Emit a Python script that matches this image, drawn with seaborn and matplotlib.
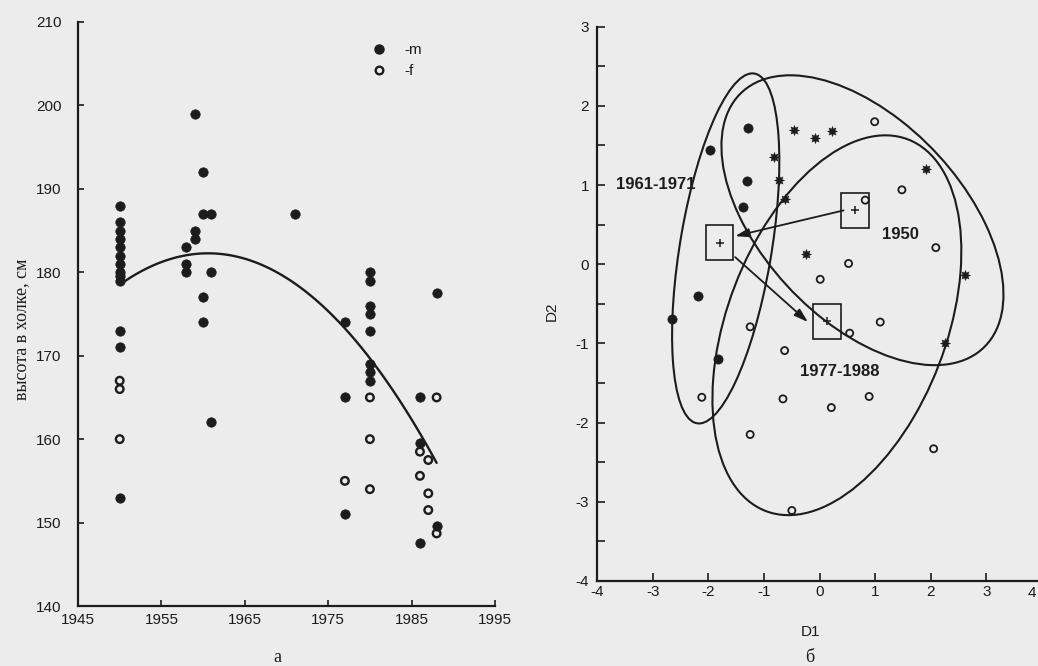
import numpy as np
import pandas as pd
import seaborn as sns
import matplotlib
matplotlib.use("Agg")
import matplotlib.pyplot as plt
from matplotlib.patches import Ellipse, Rectangle
from matplotlib.lines import Line2D

# ---------------- data: panel a ----------------
m_year = [1950]*13 + [1958]*3 + [1959]*3 + [1960]*4 + [1961]*3 + [1971] + [1977]*3 + [1980]*8 + [1986]*3 + [1988]*2
m_height = [188, 186, 185, 184, 183, 182, 181, 180, 179, 173, 171, 153,
            179.5,
            183, 181, 180,
            199, 185, 184,
            192, 187, 177, 174,
            187, 180, 162,
            187,
            174, 165, 151,
            180, 179, 176, 175, 173, 169, 168, 167,
            165, 159.5, 147.5,
            177.5, 149.6]
f_year = [1950]*3 + [1977] + [1980]*3 + [1986]*2 + [1987]*3 + [1988]*2
f_height = [167, 166, 160,
            155,
            165, 160, 154,
            158.5, 155.6,
            157.5, 153.5, 151.5,
            165, 148.7]
curve_year = [1950.25, 1952.8, 1956.8, 1960.8, 1964.8, 1968.8, 1972.8, 1976.8, 1980.8, 1984.8, 1987.4, 1988.0]
curve_height = [178.9, 180.1, 181.7, 182.2, 181.8, 179.9, 177.1, 173.7, 168.9, 162.7, 158.3, 156.9]
x_ticks_a = [1945, 1955, 1965, 1975, 1985, 1995]
y_ticks_a = [140, 150, 160, 170, 180, 190, 200, 210]

# ---------------- data: panel b ----------------
dot_d1 = [-1.28, -1.98, -1.31, -1.38, -2.19, -2.65, -1.82]
dot_d2 = [1.72, 1.44, 1.05, 0.72, -0.40, -0.69, -1.20]
star_d1 = [-0.47, -0.09, 0.23, -0.82, -0.74, -0.62, -0.24, 1.92, 2.61, 2.25]
star_d2 = [1.70, 1.60, 1.68, 1.35, 1.07, 0.83, 0.13, 1.20, -0.14, -0.99]
open_d1 = [0.99, 1.48, 0.82, 2.09, 0.52, 0.01, 1.09, -1.25, 0.54, -0.63, -2.12, -0.66, 0.21, 0.89, -1.25, 2.05, -0.50]
open_d2 = [1.80, 0.94, 0.81, 0.21, 0.01, -0.19, -0.73, -0.79, -0.87, -1.09, -1.68, -1.70, -1.81, -1.67, -2.15, -2.33, -3.11]

groups = ["1961-1971", "1950", "1977-1988"]
ell_cx = [-1.69, 0.77, 0.31]
ell_cy = [0.20, 0.556, -0.77]
ell_w = [4.54, 5.56, 5.48]
ell_h = [1.63, 2.87, 3.61]
ell_ang = [75.9, -28.5, 50.0]

cent_d1 = [0.64, -1.80, 0.13]
cent_d2 = [0.68, 0.27, -0.72]
label_x = [-2.95, 1.46, 0.36]
label_y = [1.01, 0.37, -1.35]
label_txt = ["1961-1971", "1950", "1977-1988"]

arrow_from = [(0.43, 0.68), (-1.52, 0.09)]
arrow_to = [(-1.52, 0.355), (-0.21, -0.73)]

x_ticks_b = [-4, -3, -2, -1, 0, 1, 2, 3, 4]
y_ticks_b = [-4, -3, -2, -1, 0, 1, 2, 3]

# ---------------- style ----------------
sns.set_theme(style="ticks")
plt.rcParams["font.family"] = ["Liberation Sans", "DejaVu Sans"]
plt.rcParams["axes.unicode_minus"] = False
BG = "#ececec"
INK = "#1c1c1c"

fig = plt.figure(figsize=(10.38, 6.66), dpi=100, facecolor=BG)
W, H = 1038, 666

# ---------------- panel a ----------------
ax1 = fig.add_axes([78/W, (H-606)/H, (495-78)/W, (606-22)/H])
ax1.set_facecolor("none")
df_m = pd.DataFrame({"year": m_year, "h": m_height})
df_f = pd.DataFrame({"year": f_year, "h": f_height})
sns.scatterplot(data=df_m, x="year", y="h", ax=ax1, marker="o", s=46,
                color=INK, edgecolor=INK, linewidth=0.5, zorder=3)
sns.scatterplot(data=df_f, x="year", y="h", ax=ax1, marker="o", s=30,
                facecolors="none", edgecolor=INK, linewidth=1.7, zorder=3)
sns.regplot(x=np.array(curve_year), y=np.array(curve_height), order=2, scatter=False,
            ci=None, truncate=True, ax=ax1, line_kws=dict(color=INK, lw=1.7))
ax1.set_xlim(1945, 1995)
ax1.set_ylim(140, 210)
ax1.set_xticks(x_ticks_a)
ax1.set_yticks(y_ticks_a)
ax1.set_xlabel("")
ax1.set_ylabel("")
narrow = ["Liberation Sans Narrow", "Liberation Sans"]
ax1.set_xticklabels([str(v) for v in x_ticks_a], family=narrow, fontsize=11)
ax1.set_yticklabels([str(v) for v in y_ticks_a], family=narrow, fontsize=11)
ax1.tick_params(axis="both", direction="in", length=4, width=1.2, color=INK, labelcolor=INK)
ax1.tick_params(axis="y", pad=12)
ax1.tick_params(axis="x", pad=5)
for s in ["top", "right"]:
    ax1.spines[s].set_visible(False)
for s in ["left", "bottom"]:
    ax1.spines[s].set_linewidth(1.6)
    ax1.spines[s].set_color(INK)

handles = [Line2D([], [], marker="o", ls="", color=INK, markersize=6.5),
           Line2D([], [], marker="o", ls="", markerfacecolor="none", markeredgecolor=INK,
                  markeredgewidth=1.7, markersize=5.5)]
leg = ax1.legend(handles, ["-m", "-f"], loc="upper left", frameon=False,
                 bbox_to_anchor=((379-8)/W, 1-(52-9)/H), bbox_transform=fig.transFigure,
                 borderpad=0, borderaxespad=0, handlelength=1.0, handletextpad=1.2,
                 labelspacing=0.45, fontsize=11)
for t in leg.get_texts():
    t.set_color(INK)

fig.text(22/W, 1-329/H, "высота в холке, см", rotation=90, ha="center", va="center",
         family=["Liberation Serif", "DejaVu Serif"], fontsize=13, color=INK)
fig.text(277/W, 1-657/H, "а", ha="center", va="center",
         family=["Liberation Serif", "DejaVu Serif"], fontsize=13, color=INK)

# ---------------- panel b ----------------
ax2 = fig.add_axes([597.3/W, (H-581)/H, (1042-597.3)/W, (581-26.7)/H])
ax2.set_facecolor("none")
sns.scatterplot(x=dot_d1, y=dot_d2, ax=ax2, marker="o", s=44, color=INK,
                edgecolor=INK, linewidth=0.5, zorder=3)
sns.scatterplot(x=star_d1, y=star_d2, ax=ax2, marker=(8, 1, 0), s=52, color=INK,
                edgecolor=INK, linewidth=0.4, zorder=3)
sns.scatterplot(x=open_d1, y=open_d2, ax=ax2, marker="o", s=26, facecolors="none",
                edgecolor=INK, linewidth=1.3, zorder=3)

for cx, cy, w, h, a in zip(ell_cx, ell_cy, ell_w, ell_h, ell_ang):
    ax2.add_patch(Ellipse((cx, cy), w, h, angle=a, fill=False, ec=INK, lw=1.5, zorder=2))

for cx, cy in zip(cent_d1, cent_d2):
    ax2.add_patch(Rectangle((cx - 0.25, cy - 0.22), 0.5, 0.44, fill=False, ec=INK, lw=1.2, zorder=4))
sns.scatterplot(x=cent_d1, y=cent_d2, ax=ax2, marker="+", s=40, color=INK, linewidth=1.1, zorder=4)

for (x0, y0), (x1, y1) in zip(arrow_from, arrow_to):
    ax2.annotate("", xy=(x1, y1), xytext=(x0, y0),
                 arrowprops=dict(arrowstyle="-|>,head_length=0.7,head_width=0.22",
                                 color=INK, lw=1.3, shrinkA=0, shrinkB=0), zorder=4)

for x, y, t in zip(label_x, label_y, label_txt):
    ax2.text(x, y, t, ha="center", va="center", fontsize=12, fontweight="bold", color=INK)

ax2.set_xlim(-4, 4)
ax2.set_ylim(-4, 3)
ax2.set_xticks(x_ticks_b)
ax2.set_yticks(y_ticks_b)
ax2.set_yticks(np.arange(-3.5, 3.0, 1.0), minor=True)
# the last label ("4") sits at the clipped right edge; it is drawn separately below, nudged inward
ax2.set_xticklabels([str(v) for v in x_ticks_b[:-1]] + [""], fontsize=11)
ax2.set_yticklabels([str(v) for v in y_ticks_b], fontsize=11)
ax2.annotate(str(x_ticks_b[-1]), xy=(x_ticks_b[-1], -4), xytext=(-7, -3.3),
             textcoords="offset points", ha="center", va="top", fontsize=11, color=INK,
             annotation_clip=False)
ax2.tick_params(axis="both", which="both", direction="in", length=6, width=1.2,
                color=INK, labelcolor=INK)
ax2.tick_params(axis="y", pad=6)
ax2.tick_params(axis="x", pad=3)
ax2.set_xlabel("")
ax2.set_ylabel("")
for s in ["top", "right"]:
    ax2.spines[s].set_visible(False)
for s in ["left", "bottom"]:
    ax2.spines[s].set_linewidth(1.6)
    ax2.spines[s].set_color(INK)

fig.text(551.7/W, 1-311.7/H, "D2", rotation=90, ha="center", va="center", fontsize=11, color=INK)
fig.text(810/W, 1-632/H, "D1", ha="center", va="center", fontsize=11, color=INK)
fig.text(810/W, 1-658/H, "б", ha="center", va="center",
         family=["Liberation Serif", "DejaVu Serif"], fontsize=13, color=INK)

fig.savefig("out.png", dpi=100, facecolor=BG)
